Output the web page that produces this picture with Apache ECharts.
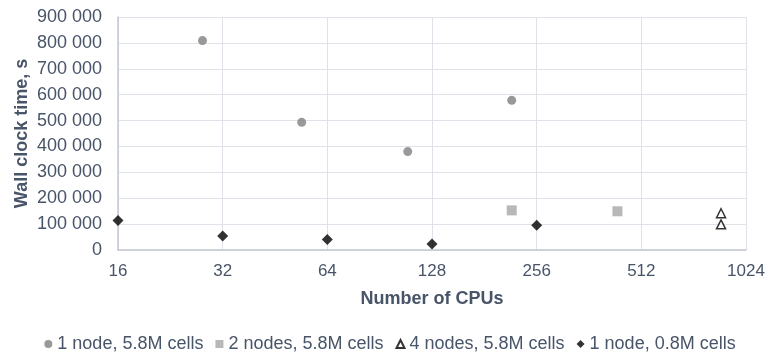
<!DOCTYPE html>
<html>
<head>
<meta charset="utf-8">
<script src="https://cdn.jsdelivr.net/npm/echarts@6/dist/echarts.min.js"></script>
<style>
  html, body { margin: 0; padding: 0; background: #fff; }
  #chart { width: 780px; height: 354px; }
</style>
</head>
<body>
<div id="chart"></div>
<script>
// Wall clock time versus CPU count for each run configuration
const oneNode58Cpus = [28, 54, 109, 217];
const oneNode58Time = [809000, 493000, 380000, 578000];

const twoNodes58Cpus = [217, 437];
const twoNodes58Time = [153000, 149500];

const fourNodes58Cpus = [868, 868];
const fourNodes58Time = [142000, 99000];

const oneNode08Cpus = [16, 32, 64, 128, 256];
const oneNode08Time = [114000, 54000, 41000, 23000, 96000];

const seriesNames = [
  '1 node, 5.8M cells',
  '2 nodes, 5.8M cells',
  '4 nodes, 5.8M cells',
  '1 node, 0.8M cells'
];

const pairs = (xs, ys) => xs.map((x, i) => [x, ys[i]]);
const textColor = '#485468';
const fontFamily = '"Liberation Sans", Arial, sans-serif';
// thousands grouped with a space: 900 000
const fmtThousands = v => String(Math.round(v)).replace(/\B(?=(\d{3})+(?!\d))/g, '\u00a0');

const chart = echarts.init(document.getElementById('chart'));
chart.setOption({
  animation: false,
  textStyle: { fontFamily },
  grid: {
    left: 118, right: 34, top: 17, bottom: 104,
    containLabel: false,
    outerBoundsMode: 'none'
  },
  xAxis: {
    type: 'log',
    logBase: 2,
    min: 16,
    max: 1024,
    name: 'Number of CPUs',
    nameLocation: 'middle',
    nameGap: 40,
    nameTextStyle: { color: textColor, fontSize: 18, fontWeight: 'bold', fontFamily },
    axisLine: { show: true, lineStyle: { color: '#c3c8d2', width: 1.5 } },
    axisTick: { show: false },
    splitLine: { show: true, lineStyle: { color: '#dfe2e8', width: 1 } },
    minorTick: { show: false },
    axisLabel: { color: textColor, fontSize: 17, margin: 13, fontFamily, formatter: v => String(Math.round(v)) }
  },
  yAxis: {
    type: 'value',
    min: 0,
    max: 900000,
    interval: 100000,
    name: 'Wall clock time, s',
    nameLocation: 'middle',
    nameGap: 87,
    nameMoveOverlap: false,
    nameTextStyle: { color: textColor, fontSize: 18, fontWeight: 'bold', fontFamily },
    axisLine: { show: true, lineStyle: { color: '#c3c8d2', width: 1.5 } },
    axisTick: { show: false },
    splitLine: { show: true, lineStyle: { color: '#dfe2e8', width: 1 } },
    axisLabel: { color: textColor, fontSize: 18, margin: 16, formatter: fmtThousands, fontFamily }
  },
  legend: {
    top: 330,
    left: 'center',
    itemWidth: 8,
    itemHeight: 8,
    itemGap: 12,
    textStyle: { color: textColor, fontSize: 18, fontFamily },
    data: [
      { name: seriesNames[0], icon: 'circle' },
      { name: seriesNames[1], icon: 'rect' },
      { name: seriesNames[2], icon: 'triangle' },
      { name: seriesNames[3], icon: 'diamond' }
    ]
  },
  series: [
    {
      name: seriesNames[0],
      type: 'scatter',
      symbol: 'circle',
      symbolSize: 9,
      itemStyle: { color: '#808080' },
      data: pairs(oneNode58Cpus, oneNode58Time)
    },
    {
      name: seriesNames[1],
      type: 'scatter',
      symbol: 'rect',
      symbolSize: 10,
      itemStyle: { color: '#a6a6a6' },
      data: pairs(twoNodes58Cpus, twoNodes58Time)
    },
    {
      name: seriesNames[2],
      type: 'scatter',
      symbol: 'triangle',
      symbolSize: 9,
      itemStyle: { color: '#ffffff', borderColor: '#000000', borderWidth: 1.5 },
      data: pairs(fourNodes58Cpus, fourNodes58Time)
    },
    {
      name: seriesNames[3],
      type: 'scatter',
      symbol: 'diamond',
      symbolSize: 11,
      itemStyle: { color: '#000000' },
      data: pairs(oneNode08Cpus, oneNode08Time)
    }
  ]
});
</script>
</body>
</html>
